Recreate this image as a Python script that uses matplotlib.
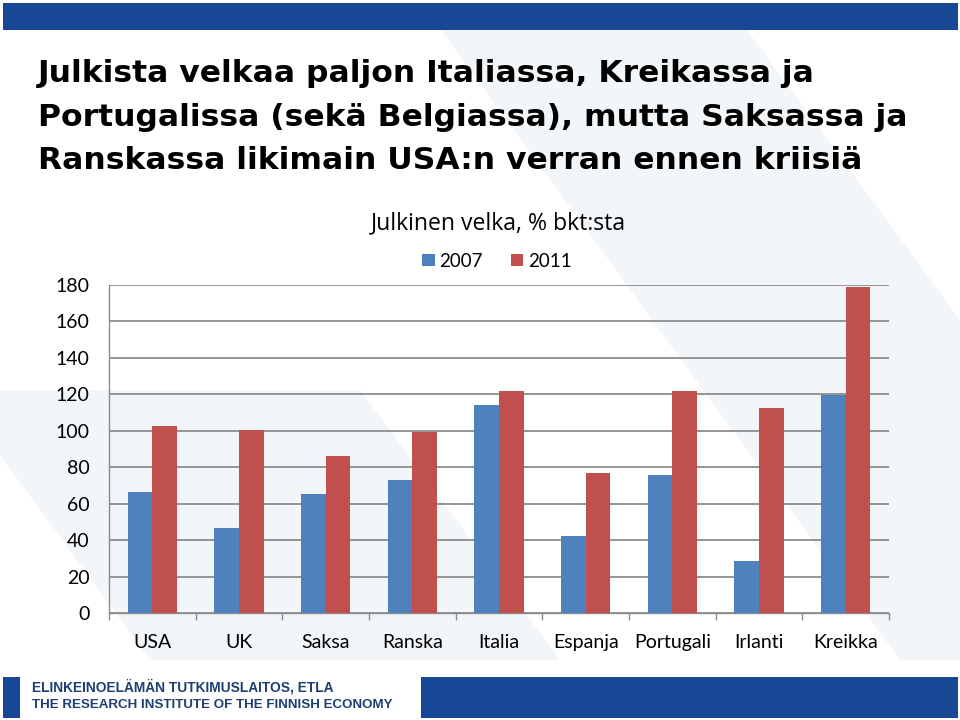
import matplotlib
matplotlib.use("Agg")
import matplotlib.pyplot as plt
import numpy as np
from matplotlib.patches import Rectangle, Polygon

categories = ["USA", "UK", "Saksa", "Ranska", "Italia", "Espanja", "Portugali", "Irlanti", "Kreikka"]
values_2007 = [66.3, 46.9, 65.4, 72.9, 114.4, 42.1, 75.8, 28.6, 119.4]
values_2011 = [102.5, 100.3, 86.4, 99.6, 122.0, 77.0, 121.6, 112.4, 179.1]
series_names = ["2007", "2011"]
y_ticks = [0, 20, 40, 60, 80, 100, 120, 140, 160, 180]

title_lines = ["Julkista velkaa paljon Italiassa, Kreikassa ja",
               "Portugalissa (sekä Belgiassa), mutta Saksassa ja",
               "Ranskassa likimain USA:n verran ennen kriisiä"]
chart_title = "Julkinen velka, % bkt:sta"
footer1 = "ELINKEINOELÄMÄN TUTKIMUSLAITOS, ETLA"
footer2 = "THE RESEARCH INSTITUTE OF THE FINNISH ECONOMY"

W, H = 960, 720
fig = plt.figure(figsize=(9.6, 7.2), dpi=100)
fig.patch.set_facecolor("white")

def fx(x):
    return x / W

def fy(y):
    return 1 - y / H

# background layer (watermark + header/footer bars)
bg = fig.add_axes([0, 0, 1, 1], zorder=-5)
bg.set_xlim(0, W)
bg.set_ylim(H, 0)
bg.axis("off")
wm = "#F3F6F9"
for pts in [
    [(441, 30), (747, 30), (960, 320), (960, 660), (900, 660)],
    [(0, 390), (360, 390), (560, 660), (150, 660), (0, 455)],
]:
    bg.add_patch(Polygon(pts, closed=True, facecolor=wm, edgecolor="none"))

navy = "#184796"
bg.add_patch(Rectangle((3, 3), 955, 26.5, facecolor=navy, edgecolor="none"))
bg.add_patch(Rectangle((3, 677), 17, 41, facecolor=navy, edgecolor="none"))
bg.add_patch(Rectangle((421, 677), 537, 41, facecolor=navy, edgecolor="none"))

for line, base in zip(title_lines, [82, 126.5, 169]):
    fig.text(fx(38), fy(base), line, ha="left", va="baseline", fontsize=22.6, fontweight="bold",
             family="DejaVu Sans", color="black")

fig.text(fx(32), fy(687), footer1, ha="left", va="center", fontsize=9.9, fontweight="bold",
         family="Liberation Sans", color="#1F3E74")
fig.text(fx(32), fy(705), footer2, ha="left", va="center", fontsize=9.6, fontweight="bold",
         family="Liberation Sans", color="#1F3E74")

# chart
ax = fig.add_axes([fx(109), fy(613), 780 / W, 328 / H])
ax.set_facecolor("none")
x = np.arange(len(categories))
bw = 1 / 3.5
ax.bar(x - bw / 2, values_2007, width=bw, color="#4F81BD", label=series_names[0], zorder=3)
ax.bar(x + bw / 2, values_2011, width=bw, color="#C0504D", label=series_names[1], zorder=3)
ax.set_xlim(-0.5, len(categories) - 0.5)
ax.set_ylim(0, 180)
ax.set_yticks(y_ticks)
ax.set_yticklabels([str(v) for v in y_ticks], family="Lato", fontsize=14)
ax.yaxis.grid(True, color="#8C8C8C", linewidth=1.3, zorder=1)
ax.set_axisbelow(True)
ax.tick_params(axis="y", length=0, pad=14, colors="black")
ax.set_xticks(x)
ax.set_xticklabels(categories, family="Lato", fontsize=14)
ax.set_xticks(np.arange(-0.5, len(categories)), minor=True)
ax.tick_params(axis="x", which="major", length=0, pad=15)
ax.tick_params(axis="x", which="minor", length=5, width=1, color="#8C8C8C")
for s in ["top", "right"]:
    ax.spines[s].set_visible(False)
for s in ["left", "bottom"]:
    ax.spines[s].set_color("#8C8C8C")
    ax.spines[s].set_linewidth(1.0)

fig.text(fx(498), fy(223), chart_title, ha="center", va="center", family="Open Sans", fontsize=16.6)
leg = ax.legend(loc="center", bbox_to_anchor=(fx(497), fy(261)), bbox_transform=fig.transFigure,
                ncol=2, frameon=False, prop={"family": "Lato", "size": 13.5},
                handlelength=0.65, handleheight=0.65, handletextpad=0.25, columnspacing=1.5)

fig.savefig("out.png", dpi=100)
